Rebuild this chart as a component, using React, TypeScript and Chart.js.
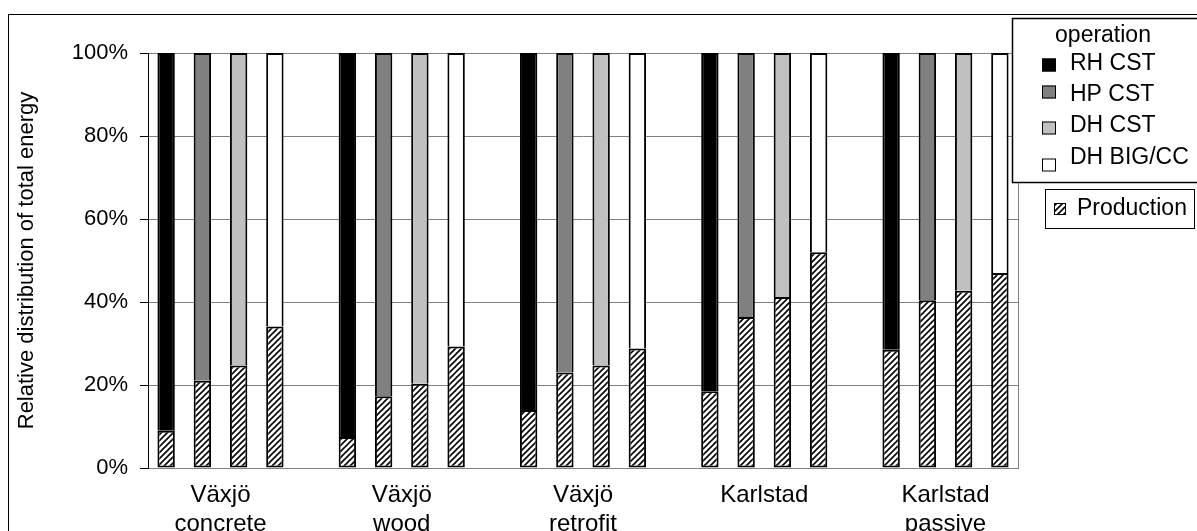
import React, { useEffect, useRef } from 'react';
import { Chart, registerables } from 'chart.js';

Chart.register(...registerables);

// ---------- data ----------
const groupLabels: string[][] = [
  ['Växjö', 'concrete'],
  ['Växjö', 'wood'],
  ['Växjö', 'retrofit'],
  ['Karlstad'],
  ['Karlstad', 'passive'],
];
const techLabels = ['RH CST', 'HP CST', 'DH CST', 'DH BIG/CC'];
const techColors = ['#000000', '#808080', '#c0c0c0', '#ffffff'];
const legendTitle = 'operation';
const productionLabel = 'Production';

// production share (%) per technology, one value per group
const productionRH = [9, 7.5, 14, 18.5, 28.5];
const productionHP = [21, 17.3, 23, 36.4, 40.4];
const productionDH = [24.7, 20.3, 24.7, 41.2, 42.7];
const productionBIG = [34.1, 29.3, 28.8, 52, 47];

// operation share (%) per technology, one value per group
const operationRH = [91, 92.5, 86, 81.5, 71.5];
const operationHP = [79, 82.7, 77, 63.6, 59.6];
const operationDH = [75.3, 79.7, 75.3, 58.8, 57.3];
const operationBIG = [65.9, 70.7, 71.2, 48, 53];

const yTickValues = [0, 20, 40, 60, 80, 100];
const yTitle = 'Relative distribution of total energy';

const productionSeries = [productionRH, productionHP, productionDH, productionBIG];
const operationSeries = [operationRH, operationHP, operationDH, operationBIG];
const slotsPerGroup = techLabels.length + 1; // one empty slot between groups

const FONT = '"Liberation Sans", Arial, sans-serif';

function makeHatch(): CanvasPattern | string {
  const s = 6;
  const c = document.createElement('canvas');
  c.width = s;
  c.height = s;
  const g = c.getContext('2d');
  if (!g) return '#ffffff';
  g.fillStyle = '#ffffff';
  g.fillRect(0, 0, s, s);
  g.strokeStyle = '#000000';
  g.lineWidth = 1.6;
  g.beginPath();
  g.moveTo(0, s);
  g.lineTo(s, 0);
  g.moveTo(-1, 1);
  g.lineTo(1, -1);
  g.moveTo(s - 1, s + 1);
  g.lineTo(s + 1, s - 1);
  g.stroke();
  const p = g.createPattern(c, 'repeat');
  return p || '#ffffff';
}

export default function App() {
  const ref = useRef<HTMLCanvasElement>(null);

  useEffect(() => {
    const canvas = ref.current;
    if (!canvas) return;
    const hatch = makeHatch();

    const prodData: { x: number; y: number }[] = [];
    groupLabels.forEach((_, g) => {
      productionSeries.forEach((series, t) => {
        prodData.push({ x: g * slotsPerGroup + t, y: series[g] });
      });
    });

    const datasets: any[] = [
      {
        label: productionLabel,
        data: prodData,
        backgroundColor: hatch,
        borderColor: '#000000',
        borderWidth: 2,
        borderSkipped: false,
      },
    ];
    operationSeries.forEach((series, t) => {
      datasets.push({
        label: techLabels[t],
        data: series.map((v, g) => ({ x: g * slotsPerGroup + t, y: v })),
        backgroundColor: techColors[t],
        borderColor: '#000000',
        borderWidth: 2,
        borderSkipped: 'bottom',
      });
    });

    const groupCenters = groupLabels.map(
      (_, g) => g * slotsPerGroup + (techLabels.length - 1) / 2
    );
    const xMax = groupLabels.length * slotsPerGroup - 1 - 0.5;

    const decorPlugin = {
      id: 'decor',
      beforeDatasetsDraw(chart: any) {
        const { ctx, chartArea } = chart;
        ctx.save();
        ctx.strokeStyle = '#808080';
        ctx.lineWidth = 1;
        const xr = Math.round(chartArea.right) + 0.5;
        ctx.beginPath();
        ctx.moveTo(xr, chartArea.top);
        ctx.lineTo(xr, chartArea.bottom);
        ctx.stroke();
        ctx.restore();
      },
      afterDraw(chart: any) {
        const { ctx } = chart;
        const ds = chart.data.datasets;
        ctx.save();
        // outer frame
        ctx.strokeStyle = '#000';
        ctx.lineWidth = 1;
        ctx.strokeRect(8.5, 14.5, 1400, 800);

        // operation legend box
        ctx.fillStyle = '#fff';
        ctx.fillRect(1012, 18, 300, 164);
        ctx.strokeStyle = '#000';
        ctx.lineWidth = 1.5;
        ctx.strokeRect(1012.5, 18.5, 300, 164);

        ctx.font = `23px ${FONT}`;
        ctx.fillStyle = '#000';
        ctx.textBaseline = 'middle';
        ctx.textAlign = 'center';
        ctx.fillText(legendTitle, 1103, 36);
        ctx.textAlign = 'left';
        const rowY = [64, 95, 126, 158];
        const swY = [65, 92, 128, 165];
        for (let i = 0; i < techLabels.length; i++) {
          const d = ds[i + 1];
          ctx.fillStyle = d.backgroundColor;
          ctx.fillRect(1042, swY[i] - 6.5, 14, 13);
          ctx.strokeStyle = '#000';
          ctx.lineWidth = 1;
          ctx.strokeRect(1042.5, swY[i] - 6, 13, 12);
          ctx.fillStyle = '#000';
          ctx.fillText(d.label, 1070, rowY[i]);
        }

        // production legend box
        ctx.fillStyle = '#fff';
        ctx.fillRect(1045, 189, 149, 39);
        ctx.strokeStyle = '#000';
        ctx.lineWidth = 1;
        ctx.strokeRect(1045.5, 189.5, 149, 39);
        ctx.fillStyle = ds[0].backgroundColor;
        ctx.fillRect(1054, 203, 12, 12);
        ctx.strokeRect(1054.5, 203.5, 11, 11);
        ctx.fillStyle = '#000';
        ctx.fillText(ds[0].label, 1077, 209);
        ctx.restore();
      },
    };

    const chart = new Chart(canvas, {
      type: 'bar',
      data: { datasets },
      plugins: [decorPlugin],
      options: {
        animation: false,
        responsive: true,
        maintainAspectRatio: false,
        layout: { padding: { left: 0, right: 179, top: 53, bottom: 0 } },
        categoryPercentage: 1,
        barPercentage: 0.48,
        plugins: {
          legend: { display: false },
          tooltip: { enabled: false },
        },
        scales: {
          x: {
            type: 'linear',
            stacked: true,
            min: -0.5,
            max: xMax,
            bounds: 'data',
            offset: false,
            grid: { display: false },
            border: { display: true, color: '#808080', width: 1 },
            afterBuildTicks: (scale: any) => {
              scale.ticks = groupCenters.map((v) => ({ value: v }));
            },
            afterFit: (scale: any) => {
              scale.height = 63;
            },
            ticks: {
              autoSkip: false,
              maxRotation: 0,
              minRotation: 0,
              padding: 5,
              color: '#000',
              font: { family: FONT, size: 24, lineHeight: 1.2 },
              callback: (_v: any, i: number) => groupLabels[i],
            },
          },
          y: {
            type: 'linear',
            stacked: true,
            min: 0,
            max: 100,
            afterBuildTicks: (scale: any) => {
              scale.ticks = yTickValues.map((v) => ({ value: v }));
            },
            afterFit: (scale: any) => {
              scale.width = 148;
            },
            grid: {
              color: '#808080',
              tickColor: '#000',
              tickLength: 8,
              lineWidth: 1,
            },
            border: { display: true, color: '#000', width: 1 },
            ticks: {
              padding: 12,
              color: '#000',
              font: { family: FONT, size: 22 },
              callback: (v: any) => `${v}%`,
            },
            title: {
              display: true,
              text: yTitle,
              color: '#000',
              font: { family: FONT, size: 22 },
              padding: { top: 14, bottom: 0 },
            },
          },
        },
      } as any,
    });

    return () => chart.destroy();
  }, []);

  return (
    <div
      style={{
        position: 'fixed',
        left: 0,
        top: 0,
        width: 1197,
        height: 531,
        background: '#fff',
      }}
    >
      <canvas ref={ref} />
    </div>
  );
}
